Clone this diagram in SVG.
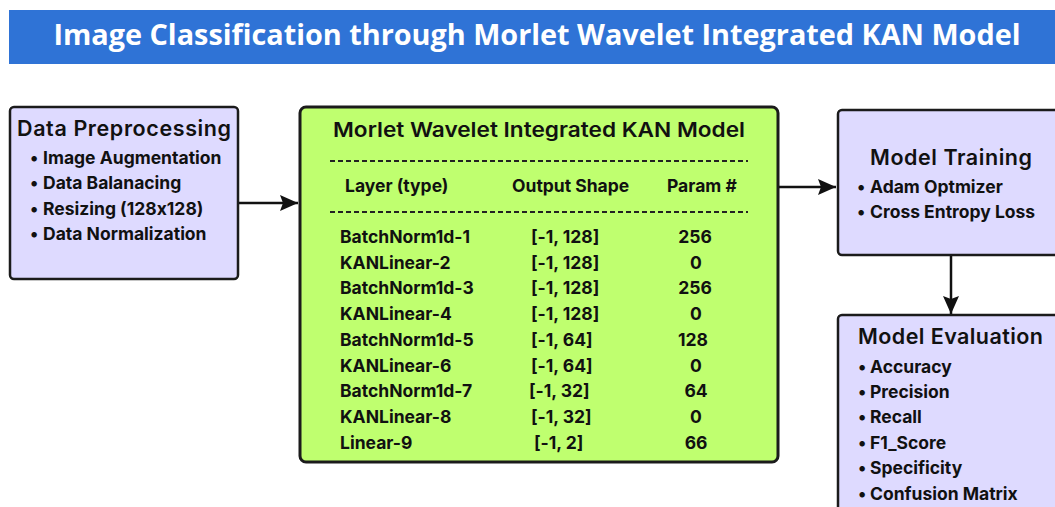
<svg xmlns="http://www.w3.org/2000/svg" width="1055" height="507" viewBox="0 0 1055 507">
  <defs>
    <marker id="arrow" viewBox="0 0 18 16" refX="18" refY="8" markerWidth="18" markerHeight="16" markerUnits="userSpaceOnUse" orient="auto">
      <path d="M0,0 L18,8 L0,16 L3,8 Z" fill="#111"/>
    </marker>
    <style>
      text { font-feature-settings: "calt" 0; }
      .box { stroke: #1b1b1b; stroke-width: 2.5; }
      .lav { fill: #dedaff; }
      .grn { fill: #bfff6f; stroke-width: 3; }
      .head { font-family: Inter, "Liberation Sans", sans-serif; font-weight: 600; fill: #111; }
      .txt, .row { font-family: Inter, "Liberation Sans", sans-serif; font-weight: 700; font-size: 17.5px; fill: #111; }
      .dash { stroke: #222; stroke-width: 2; stroke-dasharray: 5 3; }
      .conn { stroke: #111; stroke-width: 2.5; fill: none; }
    </style>
  </defs>

  <rect width="1055" height="507" fill="#ffffff"/>

  <!-- Title banner -->
  <g id="title">
    <rect x="9" y="10" width="1050" height="54" fill="#2f73d6"/>
    <text x="537" y="45" text-anchor="middle" font-family="'Open Sans', 'Liberation Sans', sans-serif" font-weight="700" font-size="28" fill="#ffffff" textLength="967" lengthAdjust="spacingAndGlyphs">Image Classification through Morlet Wavelet Integrated KAN Model</text>
  </g>

  <!-- Connectors -->
  <g id="connectors">
    <line class="conn" x1="238" y1="203" x2="298" y2="203" marker-end="url(#arrow)"/>
    <line class="conn" x1="778" y1="187" x2="836" y2="187" marker-end="url(#arrow)"/>
    <line class="conn" x1="951" y1="256" x2="951" y2="314" marker-end="url(#arrow)"/>
  </g>

  <!-- Data preprocessing -->
  <g id="preprocessing">
    <rect class="box lav" x="10" y="107" width="228" height="172" rx="4"/>
    <text class="head" x="17" y="136" font-size="21.5" textLength="214">Data Preprocessing</text>
    <g class="txt">
      <text x="30" y="164">•</text><text x="43" y="164">Image Augmentation</text>
      <text x="30" y="189">•</text><text x="43" y="189">Data Balanacing</text>
      <text x="30" y="215">•</text><text x="43" y="215">Resizing (128x128)</text>
      <text x="30" y="240">•</text><text x="43" y="240">Data Normalization</text>
    </g>
  </g>

  <!-- Model summary table -->
  <g id="kan-model">
    <rect class="box grn" x="300" y="107" width="478" height="355" rx="6"/>
    <text class="head" x="539" y="137" font-size="20.5" font-weight="700" text-anchor="middle" textLength="412" lengthAdjust="spacingAndGlyphs">Morlet Wavelet Integrated KAN Model</text>
    <line class="dash" x1="330" y1="161" x2="748" y2="161"/>
    <text class="row" x="345" y="192">Layer (type)</text>
    <text class="row" x="512" y="192">Output Shape</text>
    <text class="row" x="667" y="192">Param #</text>
    <line class="dash" x1="330" y1="212" x2="748" y2="212"/>
    <g class="row">
      <text x="340" y="243">BatchNorm1d-1</text>
      <text x="340" y="269">KANLinear-2</text>
      <text x="340" y="294">BatchNorm1d-3</text>
      <text x="340" y="320">KANLinear-4</text>
      <text x="340" y="346">BatchNorm1d-5</text>
      <text x="340" y="372">KANLinear-6</text>
      <text x="340" y="397">BatchNorm1d-7</text>
      <text x="340" y="423">KANLinear-8</text>
      <text x="340" y="449">Linear-9</text>
    </g>
    <g class="row">
      <text x="531" y="243">[-1, 128]</text>
      <text x="531" y="269">[-1, 128]</text>
      <text x="531" y="294">[-1, 128]</text>
      <text x="531" y="320">[-1, 128]</text>
      <text x="531" y="346">[-1, 64]</text>
      <text x="531" y="372">[-1, 64]</text>
      <text x="529" y="397">[-1, 32]</text>
      <text x="531" y="423">[-1, 32]</text>
      <text x="534" y="449">[-1, 2]</text>
    </g>
    <g class="row" text-anchor="middle">
      <text x="695" y="243">256</text>
      <text x="696" y="269">0</text>
      <text x="695" y="294">256</text>
      <text x="696" y="320">0</text>
      <text x="693" y="346">128</text>
      <text x="696" y="372">0</text>
      <text x="696" y="397">64</text>
      <text x="696" y="423">0</text>
      <text x="696" y="449">66</text>
    </g>
  </g>

  <!-- Training -->
  <g id="training">
    <rect class="box lav" x="838" y="110" width="230" height="145" rx="4"/>
    <text class="head" x="870" y="165" font-size="21.5" textLength="162">Model Training</text>
    <g class="txt">
      <text x="857" y="193">•</text><text x="870" y="193">Adam Optmizer</text>
      <text x="857" y="218">•</text><text x="870" y="218">Cross Entropy Loss</text>
    </g>
  </g>

  <!-- Evaluation -->
  <g id="evaluation">
    <rect class="box lav" x="838" y="315" width="230" height="210" rx="4"/>
    <text class="head" x="858" y="344" font-size="21.5" textLength="185">Model Evaluation</text>
    <g class="txt">
      <text x="858" y="373">•</text><text x="870" y="373">Accuracy</text>
      <text x="858" y="398">•</text><text x="870" y="398">Precision</text>
      <text x="858" y="423">•</text><text x="870" y="423">Recall</text>
      <text x="858" y="449">•</text><text x="870" y="449">F1_Score</text>
      <text x="858" y="474">•</text><text x="870" y="474">Specificity</text>
      <text x="858" y="500">•</text><text x="870" y="500">Confusion Matrix</text>
    </g>
  </g>
</svg>
